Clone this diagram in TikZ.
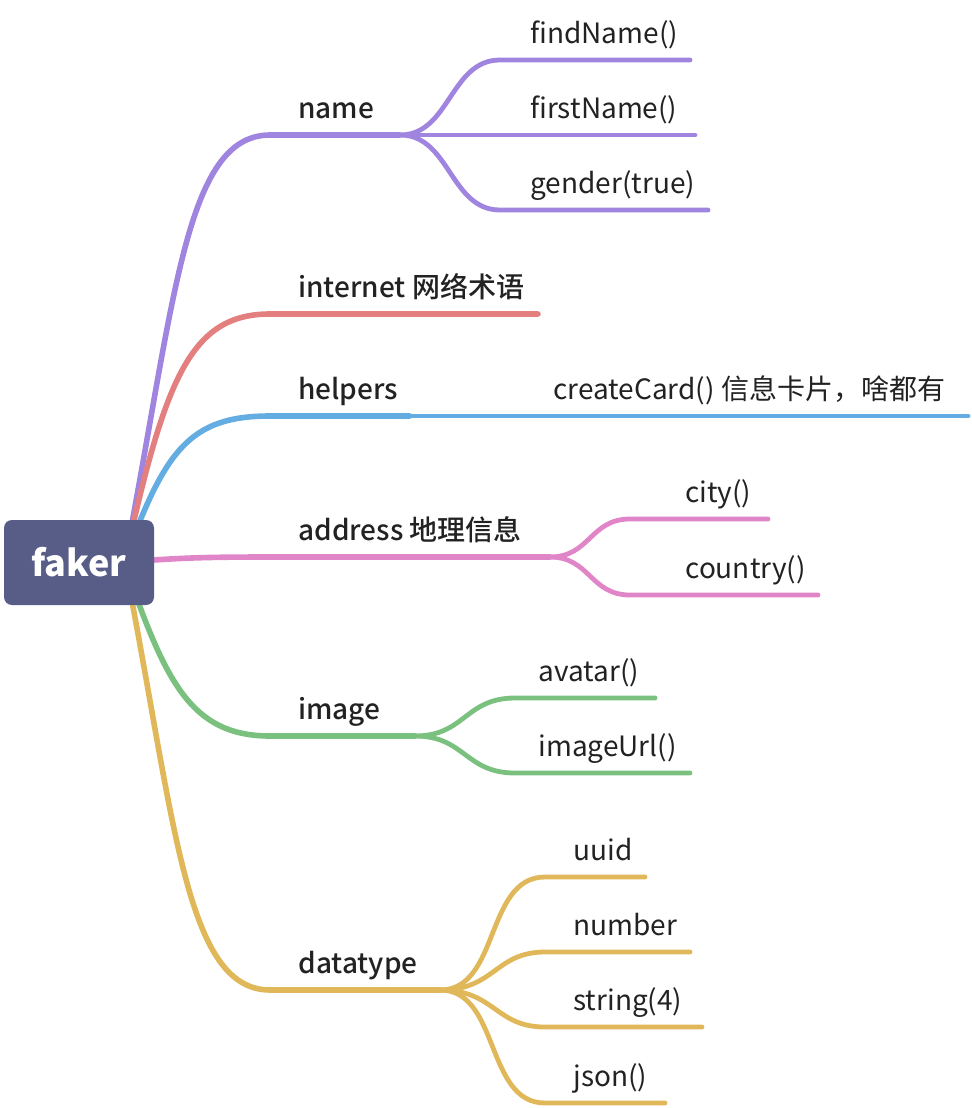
\documentclass[tikz,border=0pt]{standalone}
\usepackage{fontspec}
\setmainfont{Noto Sans CJK SC}[BoldFont={Noto Sans CJK SC Medium}]
\newfontfamily\heavyfont{Noto Sans CJK SC}
\usetikzlibrary{backgrounds}
\definecolor{rootblue}{HTML}{585D87}
\definecolor{inkdark}{HTML}{222222}
\definecolor{cname}{HTML}{A085E0}
\definecolor{cnet}{HTML}{E3807F}
\definecolor{chelp}{HTML}{64ADE3}
\definecolor{caddr}{HTML}{E085C8}
\definecolor{cimg}{HTML}{7AC17F}
\definecolor{ctype}{HTML}{E0B85A}
\begin{document}
\begin{tikzpicture}[
  x=0.5pt,y=-0.5pt,
  root/.style={rounded corners=4pt,fill=rootblue,text=white,font=\fontsize{18}{20}\heavyfont\bfseries,minimum width=75pt,minimum height=42.5pt,inner sep=0pt},
  topic/.style={anchor=base west,inner sep=0pt,text=inkdark,font=\fontsize{14}{16}\selectfont\bfseries},
  leaf/.style={anchor=base west,inner sep=0pt,text=inkdark,font=\fontsize{14}{16}\selectfont},
  trunk/.style={line width=2.8pt,line cap=round},
  twig/.style={line width=2.4pt,line cap=round},
]
  \useasboundingbox (0,0) rectangle (972,1108);
  \node[root] (faker) at (79,562.5) {faker};

  % first level labels
  \node[topic] (name) at (298,118) {name};
  \node[topic] (internet) at (298,297) {internet 网络术语};
  \node[topic] (helpers) at (298,399) {helpers};
  \node[topic] (address) at (298,540) {address 地理信息};
  \node[topic] (image) at (298,719) {image};
  \node[topic] (datatype) at (298,973) {datatype};

  % second level labels
  \node[leaf] (findname) at (530,43) {findName()};
  \node[leaf] (firstname) at (530,118) {firstName()};
  \node[leaf] (gender) at (530,193) {gender(true)};
  \node[leaf] (card) at (553,399) {createCard() 信息卡片，啥都有};
  \node[leaf] (city) at (685,502) {city()};
  \node[leaf] (country) at (685,578) {country()};
  \node[leaf] (avatar) at (538,681) {avatar()};
  \node[leaf] (imageurl) at (538,756) {imageUrl()};
  \node[leaf] (uuid) at (573,860) {uuid};
  \node[leaf] (number) at (573,935) {number};
  \node[leaf] (string) at (573,1010) {string(4)};
  \node[leaf] (json) at (573,1086) {json()};

  % fork points
  \coordinate (fname) at (400,135);
  \coordinate (fnet) at (538,314);
  \coordinate (fhelp) at (410,416);
  \coordinate (faddr) at (550,557);
  \coordinate (fimg) at (415,736);
  \coordinate (ftype) at (440,990);

  \begin{scope}[on background layer]
    \draw[trunk,cname] (125,560) .. controls (175,300) and (185,135) .. (270,135) -- (fname);
    \draw[trunk,cnet] (125,560) .. controls (165,380) and (190,314) .. (270,314) -- (fnet);
    \draw[trunk,chelp] (125,560) .. controls (165,450) and (190,416) .. (270,416) -- (fhelp);
    \draw[trunk,caddr] (125,562) .. controls (180,558) and (200,557) .. (270,557) -- (faddr);
    \draw[trunk,cimg] (125,565) .. controls (165,680) and (190,736) .. (270,736) -- (fimg);
    \draw[trunk,ctype] (125,565) .. controls (175,820) and (185,990) .. (270,990) -- (ftype);
  \end{scope}

  % name
  \draw[twig,cname] (fname) .. controls (450,135) and (450,60) .. (500,60) -- (690,60);
  \draw[twig,cname] (fname) -- (695,135);
  \draw[twig,cname] (fname) .. controls (450,135) and (450,210) .. (500,210) -- (708,210);
  % helpers
  \draw[twig,chelp] (fhelp) -- (968,416);
  % address
  \draw[twig,caddr] (faddr) .. controls (590,557) and (590,519) .. (630,519) -- (768,519);
  \draw[twig,caddr] (faddr) .. controls (590,557) and (590,595) .. (630,595) -- (818,595);
  % image
  \draw[twig,cimg] (fimg) .. controls (465,736) and (465,698) .. (515,698) -- (655,698);
  \draw[twig,cimg] (fimg) .. controls (465,736) and (465,773) .. (515,773) -- (690,773);
  % datatype
  \draw[twig,ctype] (ftype) .. controls (500,990) and (485,877) .. (545,877) -- (645,877);
  \draw[twig,ctype] (ftype) .. controls (495,990) and (495,952) .. (545,952) -- (690,952);
  \draw[twig,ctype] (ftype) .. controls (495,990) and (495,1027) .. (545,1027) -- (702,1027);
  \draw[twig,ctype] (ftype) .. controls (500,990) and (485,1103) .. (545,1103) -- (665,1103);
\end{tikzpicture}
\end{document}
